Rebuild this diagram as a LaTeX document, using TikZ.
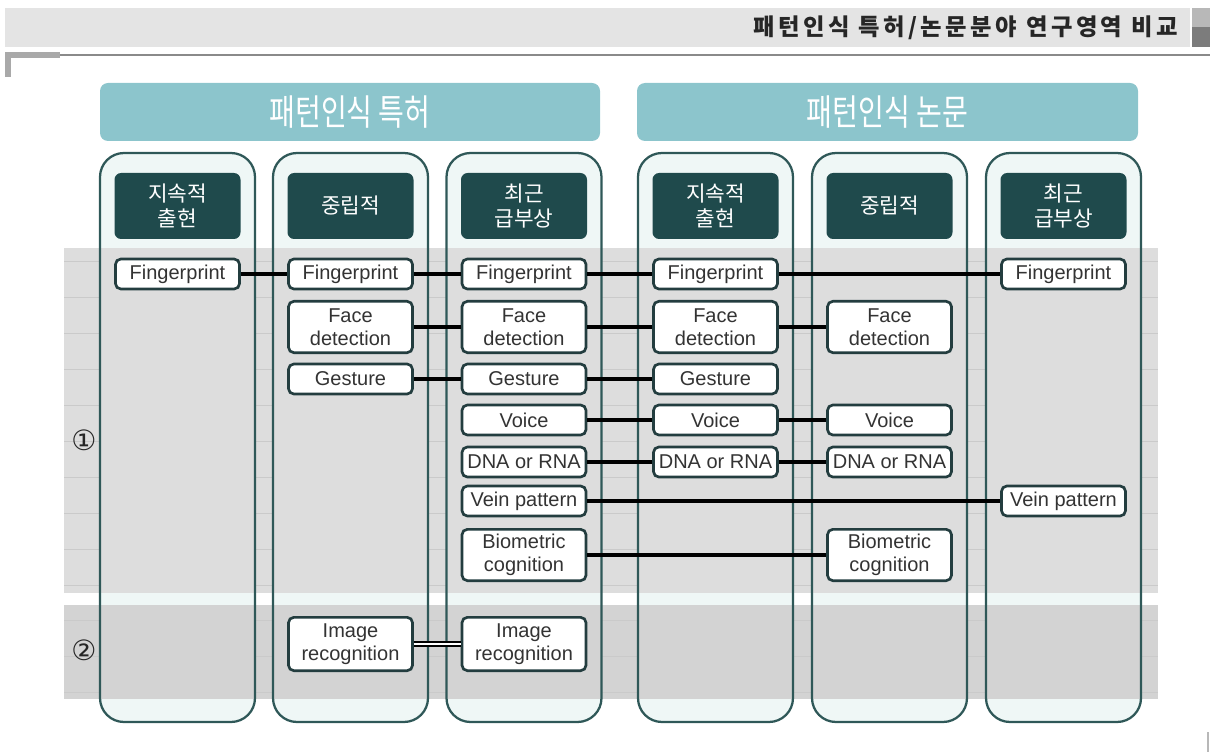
\documentclass[tikz,border=0pt]{standalone}
\usepackage{fontspec}
\setmainfont{Liberation Sans}
\newfontfamily\krfont{Noto Sans CJK KR}
\newfontfamily\krnarrow[FakeStretch=0.78]{Noto Sans CJK KR}
\newfontfamily\krtitle[LetterSpace=15]{Noto Sans CJK KR}
\newfontfamily\symfont{DejaVu Sans}

\definecolor{hdrgray}{HTML}{E4E4E4}
\definecolor{sqlight}{HTML}{B8B8B8}
\definecolor{sqdark}{HTML}{7C7C7C}
\definecolor{rulegray}{HTML}{8A8A8A}
\definecolor{bracketgray}{HTML}{A9A9A9}
\definecolor{bandteal}{HTML}{8CC5CC}
\definecolor{hdrteal}{HTML}{1F4A4C}
\definecolor{colline}{HTML}{2F5858}
\definecolor{colfill}{HTML}{EFF7F6}
\definecolor{bandone}{HTML}{DDDDDD}
\definecolor{bandtwo}{HTML}{D3D3D3}
\definecolor{gridc}{HTML}{CACACA}
\definecolor{boxline}{HTML}{233D3F}
\definecolor{txtgray}{HTML}{333333}

\tikzset{
    groupbox/.style={fill=bandteal, rounded corners=6pt, minimum height=43.5pt,
        inner sep=0pt, text=white, font=\krnarrow\fontsize{27}{30}\selectfont},
    hdrbox/.style={fill=hdrteal, rounded corners=5pt, minimum width=94.5pt,
        minimum height=49.5pt, inner sep=0pt, align=center, text=white,
        font=\krfont\fontsize{16}{18.5}\selectfont},
    item/.style={draw=boxline, line width=2pt, fill=white, rounded corners=4pt,
        minimum width=93pt, minimum height=22.5pt, inner sep=0pt, align=center,
        text=txtgray, font=\fontsize{15}{17}\selectfont},
    tall/.style={item, minimum height=38.5pt},
    link/.style={line width=2.8pt, black},
}

\begin{document}
\begin{tikzpicture}[x=0.75pt, y=-0.75pt]
    \useasboundingbox (0,0) rectangle (1210,752);

    % Encabezado de la pagina
    \fill[hdrgray] (5,8) rectangle (1190,47);
    \fill[sqlight] (1192,8) rectangle (1210,27);
    \fill[sqdark] (1192,27) rectangle (1210,47);
    \draw[rulegray, line width=0.9pt] (60,55) -- (1210,55);
    \fill[bracketgray] (5,52) rectangle (60,58);
    \fill[bracketgray] (5,52) rectangle (11,77);
    \node[anchor=east, inner sep=0pt, text=black!85,
        font=\krtitle\bfseries\fontsize{17.5}{20}\selectfont] (titulo) at (1178,28)
        {패턴인식 특허/논문분야 연구영역 비교};
    \draw[sqlight, line width=1.5pt] (1208,732) -- (1208,752);

    % Bandas grises
    \fill[bandone] (64,248) rectangle (1158,593);
    \fill[bandtwo] (64,605) rectangle (1158,699);
    \foreach \gy in {261,297,333,369,405,441,477,513,549,585,620,656,692}
        \draw[gridc, line width=0.5pt] (64,\gy) -- (1158,\gy);

    % Columnas
    \foreach \cx in {177.5,350.5,524,715.5,889.5,1063.5} {
        \begin{scope}
            \clip[rounded corners=18pt] ({\cx-77.5},153) rectangle ({\cx+77.5},722);
            \fill[colfill] ({\cx-77.5},153) rectangle ({\cx+77.5},722);
            \fill[bandone] ({\cx-77.5},248) rectangle ({\cx+77.5},593);
            \fill[bandtwo] ({\cx-77.5},605) rectangle ({\cx+77.5},699);
        \end{scope}
        \draw[colline, line width=1.7pt, rounded corners=18pt]
            ({\cx-77.5},153) rectangle ({\cx+77.5},722);
    }

    % Titulos de grupo
    \node[groupbox, minimum width=375pt] (patente) at (350,112) {패턴인식 특허};
    \node[groupbox, minimum width=375.75pt] (articulo) at (887.5,112) {패턴인식 논문};

    % Cabeceras de columna
    \node[hdrbox] (h1) at (177.5,206) {지속적\\출현};
    \node[hdrbox] (h2) at (350.5,206) {중립적};
    \node[hdrbox] (h3) at (524,206) {최근\\급부상};
    \node[hdrbox] (h4) at (715.5,206) {지속적\\출현};
    \node[hdrbox] (h5) at (889.5,206) {중립적};
    \node[hdrbox] (h6) at (1063.5,206) {최근\\급부상};

    % Numeros de banda
    \node[font=\symfont\fontsize{21}{21}\selectfont, text=black!85] (n1) at (84,440) {①};
    \node[font=\symfont\fontsize{21}{21}\selectfont, text=black!85] (n2) at (84,650) {②};

    % Cajas
    \node[item] (fp1) at (177.5,274) {Fingerprint};
    \node[item] (fp2) at (350.5,274) {Fingerprint};
    \node[item] (fp3) at (524,274) {Fingerprint};
    \node[item] (fp4) at (715.5,274) {Fingerprint};
    \node[item] (fp6) at (1063.5,274) {Fingerprint};

    \node[tall] (fd2) at (350.5,327) {Face\\detection};
    \node[tall] (fd3) at (524,327) {Face\\detection};
    \node[tall] (fd4) at (715.5,327) {Face\\detection};
    \node[tall] (fd5) at (889.5,327) {Face\\detection};

    \node[item] (ge2) at (350.5,379) {Gesture};
    \node[item] (ge3) at (524,379) {Gesture};
    \node[item] (ge4) at (715.5,379) {Gesture};

    \node[item] (vo3) at (524,420) {Voice};
    \node[item] (vo4) at (715.5,420) {Voice};
    \node[item] (vo5) at (889.5,420) {Voice};

    \node[item] (dn3) at (524,462) {DNA or RNA};
    \node[item] (dn4) at (715.5,462) {DNA or RNA};
    \node[item] (dn5) at (889.5,462) {DNA or RNA};

    \node[item] (ve3) at (524,501) {Vein pattern};
    \node[item] (ve6) at (1063.5,501) {Vein pattern};

    \node[tall] (bi3) at (524,555) {Biometric\\cognition};
    \node[tall] (bi5) at (889.5,555) {Biometric\\cognition};

    \node[tall, minimum height=40pt] (im2) at (350.5,644) {Image\\recognition};
    \node[tall, minimum height=40pt] (im3) at (524,644) {Image\\recognition};

    % Conexiones
    \draw[link] (fp1) -- (fp2);
    \draw[link] (fp2) -- (fp3);
    \draw[link] (fp3) -- (fp4);
    \draw[link] (fp4) -- (fp6);
    \draw[link] (fd2) -- (fd3);
    \draw[link] (fd3) -- (fd4);
    \draw[link] (fd4) -- (fd5);
    \draw[link] (ge2) -- (ge3);
    \draw[link] (ge3) -- (ge4);
    \draw[link] (vo3) -- (vo4);
    \draw[link] (vo4) -- (vo5);
    \draw[link] (dn3) -- (dn4);
    \draw[link] (dn4) -- (dn5);
    \draw[link] (ve3) -- (ve6);
    \draw[link] (bi3) -- (bi5);
    \draw[line width=1.3pt, double=white, double distance=2pt] (im2) -- (im3);
  \end{tikzpicture}
\end{document}
